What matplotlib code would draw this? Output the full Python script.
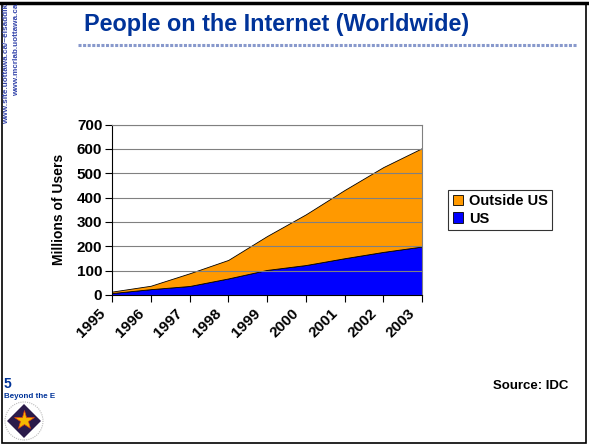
import numpy as np
import matplotlib.pyplot as plt
import matplotlib.transforms as mtransforms
from matplotlib.patches import Rectangle, Polygon, Circle

years = ['1995', '1996', '1997', '1998', '1999', '2000', '2001', '2002', '2003']
us = [8, 24, 37, 68, 103, 123, 151, 177, 199]
total = [14, 38, 89, 144, 242, 331, 431, 525, 603]
outside = [t - u for t, u in zip(total, us)]

plt.rcParams['font.family'] = ['Liberation Sans', 'DejaVu Sans']
plt.rcParams['font.weight'] = 'bold'

fig = plt.figure(figsize=(5.89, 4.45), dpi=100)
ax = fig.add_axes([112 / 589, 150 / 445, 310 / 589, 170.5 / 445])

x = np.arange(len(years))
h = ax.stackplot(x, us, outside, colors=['#0000FF', '#FF9900'],
                 edgecolor='black', linewidth=0.6)
ax.set_xlim(0, len(years) - 1)
ax.set_ylim(0, 700)
ax.set_yticks(range(0, 701, 100))
ax.set_xticks(x)
ax.set_xticklabels([])
# rotated year labels, shifted down-left of each tick like the original
shift = mtransforms.ScaledTranslation(-9 / 100, -16 / 100, fig.dpi_scale_trans)
for i, yr in zip(x, years):
    ax.text(i, 0, yr, transform=ax.get_xaxis_transform() + shift,
            rotation=45, ha='right', va='center', rotation_mode='anchor',
            fontsize=11, fontweight='bold', clip_on=False)
for lab in ax.get_yticklabels():
    lab.set_fontsize(11)
    lab.set_fontweight('bold')
ax.yaxis.grid(True, color='#808080', linewidth=0.8)
for g in ax.get_ygridlines():
    g.set_zorder(0.5)
ax.spines['top'].set_color('#808080')
ax.spines['right'].set_color('#808080')
ax.tick_params(axis='both', length=5, width=0.8, pad=2)
ax.set_ylabel('Millions of Users', fontsize=10, fontweight='bold', labelpad=8)

leg = ax.legend([h[1], h[0]], ['Outside US', 'US'], loc='center left',
                bbox_to_anchor=(1.085, 0.5), frameon=True, fancybox=False,
                edgecolor='black', handlelength=0.7, handleheight=0.7,
                handletextpad=0.4, borderpad=0.3, labelspacing=0.25,
                borderaxespad=0, prop={'weight': 'bold', 'size': 10.5})
leg.get_frame().set_linewidth(0.8)
for p in leg.get_patches():
    p.set_edgecolor('black')

# title and decorations
fig.text(84 / 589, 1 - 25 / 445, 'People on the Internet (Worldwide)',
         fontsize=16.8, fontweight='bold', color='#003399', va='center')
fig.add_artist(plt.Line2D([78 / 589, 577 / 589], [1 - 45 / 445, 1 - 45 / 445],
                          color='#8899CC', linewidth=2.2, linestyle=(0, (1, 0.5))))
fig.text(7 / 589, 1 - 4 / 445, 'www.site.uottawa.ca/~elsaddik', rotation=90,
         fontsize=5.9, fontweight='bold', color='#3344AA', ha='center', va='top')
fig.text(17 / 589, 1 - 4 / 445, 'www.mcrlab.uottawa.ca', rotation=90,
         fontsize=5.9, fontweight='bold', color='#3344AA', ha='center', va='top')
fig.text(4 / 589, 1 - 384 / 445, '5', fontsize=10, fontweight='bold',
         color='#003399', va='center')
fig.text(4 / 589, 1 - 397 / 445, 'Beyond the E', fontsize=5.8, fontweight='bold',
         color='#003399', va='center')
fig.text(568 / 589, 1 - 386 / 445, 'Source: IDC', fontsize=9.5, fontweight='bold',
         ha='right', va='center')

# small logo
cx, cy, r = 24 / 589, 1 - 421 / 445, 17
fig.add_artist(Circle((24, 445 - 421), 19, transform=None,
                      fill=False, edgecolor='#BBBBBB', linewidth=0.8,
                      linestyle=(0, (1, 1))))
fig.add_artist(Polygon([[cx, cy + r / 445], [cx + r / 589, cy],
                        [cx, cy - r / 445], [cx - r / 589, cy]],
                       closed=True, facecolor='#2A1A4A', edgecolor='none',
                       transform=fig.transFigure))
fig.add_artist(plt.Line2D([cx], [cy + 1 / 445], marker='*', markersize=15,
                          color='#F5B800', markeredgecolor='#E04010',
                          markeredgewidth=0.5))

# slide frame
fig.add_artist(Rectangle((0.003, 0.004), 0.992, 0.990, fill=False,
                         edgecolor='black', linewidth=1.2,
                         transform=fig.transFigure))
fig.add_artist(plt.Line2D([0, 1], [1 - 2.5 / 445, 1 - 2.5 / 445],
                          color='black', linewidth=2.5))

fig.savefig('out.png', dpi=100)
